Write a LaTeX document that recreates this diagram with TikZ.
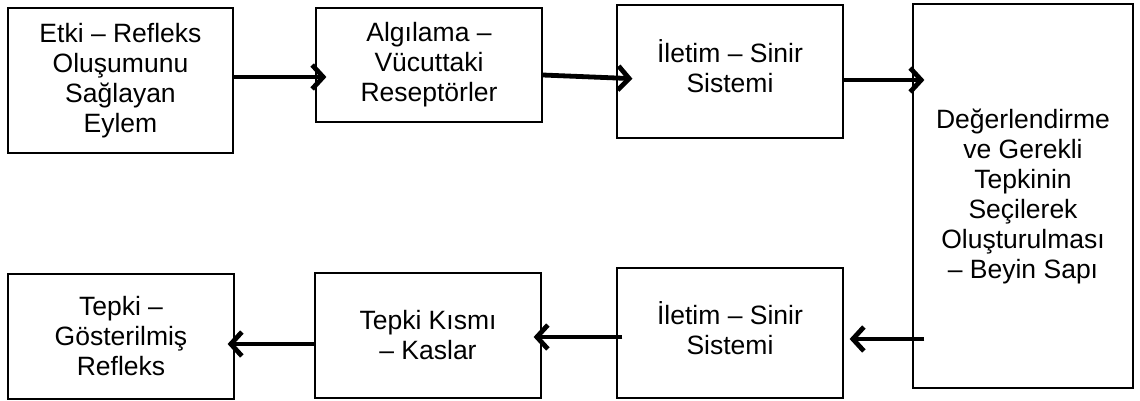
\documentclass[tikz,border=0pt]{standalone}
\usepackage{fontspec}
\setmainfont{Liberation Sans}
\usetikzlibrary{arrows.meta}
\begin{document}
\begin{tikzpicture}[x=1pt,y=-1pt,
  box/.style={draw=black, line width=1.2pt, align=center, inner sep=0pt,
    font=\fontsize{26.5}{30}\selectfont},
  arr/.style={line width=4.8pt, -{Straight Barb[length=11pt,width=24pt]}}]
\useasboundingbox (0,0) rectangle (1140,401);
\node[box, minimum width=225pt, minimum height=145pt] (b1) at (120.5,80.5) {Etki – Refleks\\Oluşumunu\\Sağlayan\\Eylem};
\node[box, minimum width=226pt, minimum height=114pt] (b2) at (429,65) {Algılama –\\Vücuttaki\\Reseptörler};
\node[box, minimum width=226pt, minimum height=133pt] (b3) at (730,71.5) {İletim – Sinir\\Sistemi\\[-20pt]};
\node[box, minimum width=220pt, minimum height=384pt] (b4) at (1023,196) {Değerlendirme\\ve Gerekli\\Tepkinin\\Seçilerek\\Oluşturulması\\– Beyin Sapı};
\node[box, minimum width=226pt, minimum height=130pt] (b5) at (730,333) {İletim – Sinir\\Sistemi\\[-20pt]};
\node[box, minimum width=226pt, minimum height=125pt] (b6) at (428,335.5) {Tepki Kısmı\\– Kaslar};
\node[box, minimum width=226pt, minimum height=125pt] (b7) at (121,336.5) {Tepki –\\Gösterilmiş\\Refleks};
\draw[arr, shorten >=-11pt] (b1.east |- 0,77) -- (b2.west |- 0,77);
\draw[arr, shorten >=-16pt] (b2.east |- 0,75) -- (b3.west |- 0,78);
\draw[arr, shorten >=-12pt] (b3.east |- 0,80) -- (b4.west |- 0,80);
\draw[arr, shorten <=-12pt, shorten >=6pt] (b4.west |- 0,339) -- (b5.east |- 0,339);
\draw[arr, shorten <=-6pt, shorten >=-8pt] (b5.west |- 0,337) -- (b6.east |- 0,337);
\draw[arr, shorten >=-7pt] (b6.west |- 0,344) -- (b7.east |- 0,344);
\end{tikzpicture}
\end{document}
